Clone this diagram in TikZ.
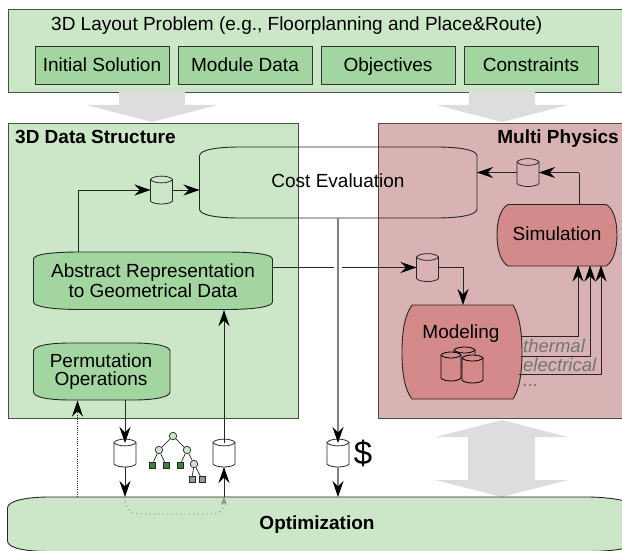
\documentclass[tikz,border=0pt]{standalone}
\usepackage{fontspec}
\setmainfont{Liberation Sans}
\usetikzlibrary{arrows.meta}
\definecolor{lg}{HTML}{CCE6C8}
\definecolor{mg}{HTML}{A2D5A0}
\definecolor{lr}{HTML}{D9B3B3}
\definecolor{mr}{HTML}{D48A8A}
\definecolor{bigar}{HTML}{DDDDDD}
\definecolor{leafg}{HTML}{3F7F3F}
\tikzset{
 x=1pt,y=-1pt,
 pane/.style={draw=black!70,line width=.9pt},
 lbl/.style={font=\fontsize{19}{21}\selectfont,inner sep=0pt,anchor=base},
 head/.style={font=\bfseries\fontsize{19}{21}\selectfont,inner sep=0pt,anchor=base},
 tip/.style={-{Stealth[length=16pt,width=11pt,inset=5.5pt,color=black]}},
 conn/.style={draw=black!85,line width=.9pt,tip},
 greyconn/.style={draw=black!50,line width=1.1pt,tip},
 plain/.style={draw=black!85,line width=.9pt},
 shapeline/.style={draw=black!85,line width=.9pt},
 subbox/.style={draw=black!80,fill=mg,line width=.8pt,minimum height=38pt,minimum width=134pt,inner sep=0pt,text height=16pt,text depth=2pt,font=\fontsize{19}{21}\selectfont},
 ital/.style={font=\itshape\fontsize{18.5}{20}\selectfont,text=black!55,inner sep=0pt,anchor=base west},
 tn/.style={circle,draw=black!85,fill=lg,minimum size=7.5pt,inner sep=0pt,line width=.7pt},
 tl/.style={rectangle,draw=black!85,fill=leafg,minimum size=6pt,inner sep=0pt,line width=.6pt},
 tg/.style={rectangle,draw=black!85,fill=black!40,minimum size=6pt,inner sep=0pt,line width=.6pt},
}
\newcommand{\cyl}[3]{% x-left, y-top, name
 \draw[line width=.8pt,draw=black!85] (#1,#2+3.5) -- (#1,#2+25) .. controls (#1+3,#2+29) and (#1+19,#2+29) .. (#1+22,#2+25) -- (#1+22,#2+3.5) .. controls (#1+19,#2-1) and (#1+3,#2-1) .. (#1,#2+3.5) -- cycle;
 \draw[line width=.8pt,draw=black!85] (#1,#2+3.5) .. controls (#1+3,#2+8) and (#1+19,#2+8) .. (#1+22,#2+3.5);
 \coordinate (#3t) at (#1+11,#2+4);
 \coordinate (#3b) at (#1+11,#2+28);
 \coordinate (#3l) at (#1,#2+14);
 \coordinate (#3r) at (#1+22,#2+14);
}
\newcommand{\bigdown}[1]{\fill[bigar] (#1-33,92) -- (#1+33,92) -- (#1+33,105) -- (#1+66,105) -- (#1,122) -- (#1-66,105) -- (#1-33,105) -- cycle;}
\begin{document}
\begin{tikzpicture}
\useasboundingbox (0,0) rectangle (622,551);
\draw[pane,fill=lg] (8,9) rectangle (640,92);
\node[lbl,anchor=base west] (title) at (51,31) {3D Layout Problem (e.g., Floorplanning and Place\&Route)};
\node[subbox] (s1) at (102,65) {Initial Solution};
\node[subbox] (s2) at (245,65) {Module Data};
\node[subbox] (s3) at (388,65) {Objectives};
\node[subbox] (s4) at (531,65) {Constraints};
\bigdown{152}
\bigdown{502}
\draw[pane,fill=lg] (8,123) rectangle (298.5,418);
\draw[pane,fill=lr] (378,123) rectangle (640,418);
\node[head,anchor=base west] (h1) at (15,143) {3D Data Structure};
\node[head,anchor=base east] (h2) at (619,143) {Multi Physics};
\fill[bigar] (502,420) -- (568,437) -- (535,437) -- (535,480) -- (568,480) -- (502,497) -- (435,480) -- (468,480) -- (468,437) -- (435,437) -- cycle;
% Optimization
\draw[shapeline,fill=lg] (50,497) -- (587,497) .. controls (612,497) and (640,502) .. (640,510) -- (640,540) .. controls (640,548) and (612,551.5) .. (587,551.5) -- (50,551.5) .. controls (25,551.5) and (7.5,548) .. (7.5,541) -- (7.5,508) .. controls (7.5,501) and (25,497) .. (50,497) -- cycle;
\node[head] (opt) at (317,529) {Optimization};
% Cost
\draw[shapeline] (240,147) -- (436,147) .. controls (460,147) and (477,150) .. (477,156) -- (477,209) .. controls (477,215) and (460,218) .. (436,218) -- (240,218) .. controls (216,218) and (199.5,215) .. (199.5,209) -- (199.5,156) .. controls (199.5,150) and (216,147) .. (240,147) -- cycle;
\node[lbl] (cost) at (338,187) {Cost Evaluation};
% Abstract
\draw[shapeline,fill=mg] (80,252) -- (226,252) .. controls (252,252) and (272.5,254) .. (272.5,259) -- (272.5,302) .. controls (272.5,307) and (252,309.5) .. (226,309.5) -- (80,309.5) .. controls (54,309.5) and (33.5,307) .. (33.5,302) -- (33.5,259) .. controls (33.5,254) and (54,252) .. (80,252) -- cycle;
\node[lbl] (abs1) at (153,277) {Abstract Representation};
\node[lbl] (abs2) at (153,297) {to Geometrical Data};
% Permutation
\draw[shapeline,fill=mg] (70,343) -- (133,343) .. controls (155,343) and (170,346) .. (170,351) -- (170,392) .. controls (170,397) and (155,400) .. (133,400) -- (70,400) .. controls (48,400) and (33.5,397) .. (33.5,392) -- (33.5,351) .. controls (33.5,346) and (48,343) .. (70,343) -- cycle;
\node[lbl] (per1) at (101,367) {Permutation};
\node[lbl] (per2) at (101,385) {Operations};
% Simulation
\draw[shapeline,fill=mr] (508,204.5) -- (606,204.5) .. controls (613,208) and (617,220) .. (617,235) .. controls (617,250) and (613,262) .. (606,266) -- (508,266) .. controls (501,262) and (497,250) .. (497,235) .. controls (497,220) and (501,208) .. (508,204.5) -- cycle;
\node[lbl] (sim) at (557,240) {Simulation};
% Modeling
\draw[shapeline,fill=mr] (412,305) -- (513,305) .. controls (519,315) and (522,330) .. (522,352) .. controls (522,375) and (519,390) .. (513,399) -- (412,399) .. controls (405,390) and (402,375) .. (402,352) .. controls (402,330) and (405,315) .. (412,305) -- cycle;
\node[lbl] (mod) at (461,338) {Modeling};
% DB stack
\foreach \xx/\yy/\ww/\hh in {454/347/21/20,441/352/20/29,462/355/21/28}{
 \draw[line width=.8pt,fill=mr] (\xx,\yy+3) -- (\xx,\yy+\hh-3) .. controls (\xx+3,\yy+\hh+1) and (\xx+\ww-3,\yy+\hh+1) .. (\xx+\ww,\yy+\hh-3) -- (\xx+\ww,\yy+3) .. controls (\xx+\ww-3,\yy-1) and (\xx+3,\yy-1) .. (\xx,\yy+3) -- cycle;
 \draw[line width=.8pt] (\xx,\yy+3) .. controls (\xx+3,\yy+7) and (\xx+\ww-3,\yy+7) .. (\xx+\ww,\yy+3);
}
% cylinders
\cyl{150.5}{176}{ca}
\cyl{416.5}{253.5}{cb}
\cyl{517}{158.5}{cc}
\cyl{114}{439}{cd}
\cyl{213}{439}{ce}
\cyl{327}{439}{cf}
\node[font=\fontsize{33}{33}\selectfont,inner sep=0pt] (dollar) at (363,453) {\$};
% connectors
\coordinate (a1) at (78,252);
\coordinate (a2) at (78,190);
\draw[plain] (a1) -- (a2);
\draw[conn] (a2) -- (cal);
\coordinate (c1) at (199.5,190);
\draw[conn] (car) -- (c1);
\coordinate (b1) at (272.5,267.5);
\coordinate (b2) at (334,267.5);
\coordinate (b3) at (342,267.5);
\draw[plain] (b1) -- (b2);
\draw[conn] (b3) -- (cbl);
\coordinate (d1) at (463,267.5);
\coordinate (d2) at (463,305);
\draw[conn] (cbr) -- (d1) -- (d2);
\coordinate (e1) at (579,204.5);
\coordinate (e2) at (579,172.5);
\draw[plain] (e1) -- (e2);
\draw[conn] (e2) -- (ccr);
\coordinate (e3) at (477,172.5);
\draw[conn] (ccl) -- (e3);
\coordinate (f1) at (338,218);
\draw[greyconn] (f1) -- (cft);
\coordinate (f2) at (338,497);
\draw[greyconn] (cfb) -- (f2);
\coordinate (g1) at (125,400);
\draw[conn] (g1) -- (cdt);
\coordinate (g2) at (125,497);
\draw[conn] (cdb) -- (g2);
\coordinate (h3) at (224,497);
\draw[conn] (h3) -- (ceb);
\coordinate (h4) at (224,310);
\draw[conn] (cet) -- (h4);
\coordinate (i1) at (77.5,497);
\coordinate (i2) at (77.5,400.5);
\draw[draw=black!85,line width=.8pt,dash pattern=on 1pt off 1.2pt,tip] (i1) -- (i2);
\draw[black!40,line width=1pt,dash pattern=on 1.2pt off 3.2pt,-{Stealth[length=8pt,width=6pt,inset=2.5pt,color=black!45]}] (g2) .. controls (125,510) and (131,514) .. (142,514) -- (208,514) .. controls (220,514) and (224,510) .. (h3);
\coordinate (j1) at (522,336);
\coordinate (j2) at (521,356);
\coordinate (j3) at (519,374);
\coordinate (j4) at (578,265.5);
\coordinate (j5) at (590,265.5);
\coordinate (j6) at (601,265.5);
\draw[conn] (j1) -- (578,336) -- (j4);
\draw[conn] (j2) -- (590,356) -- (j5);
\draw[conn] (j3) -- (601,374) -- (j6);
\node[ital] (t1) at (523,352) {thermal};
\node[ital] (t2) at (523,371) {electrical};
\node[ital] (t3) at (523,386.5) {...};
% tree
\node[tn] (n0) at (173,436) {};
\node[tn] (n1) at (159,450) {};
\node[tn] (n2) at (187,450) {};
\node[tl] (l1) at (152,465) {};
\node[tl] (l2) at (166,465) {};
\node[tl] (l3) at (180,465) {};
\node[tn] (n3) at (194,464) {};
\node[tg] (l4) at (192,479) {};
\node[tg] (l5) at (202,479) {};
\draw[line width=.6pt] (n0)--(n1) (n0)--(n2) (n1)--(l1) (n1)--(l2) (n2)--(l3) (n2)--(n3) (n3)--(l4) (n3)--(l5);
\end{tikzpicture}
\end{document}
